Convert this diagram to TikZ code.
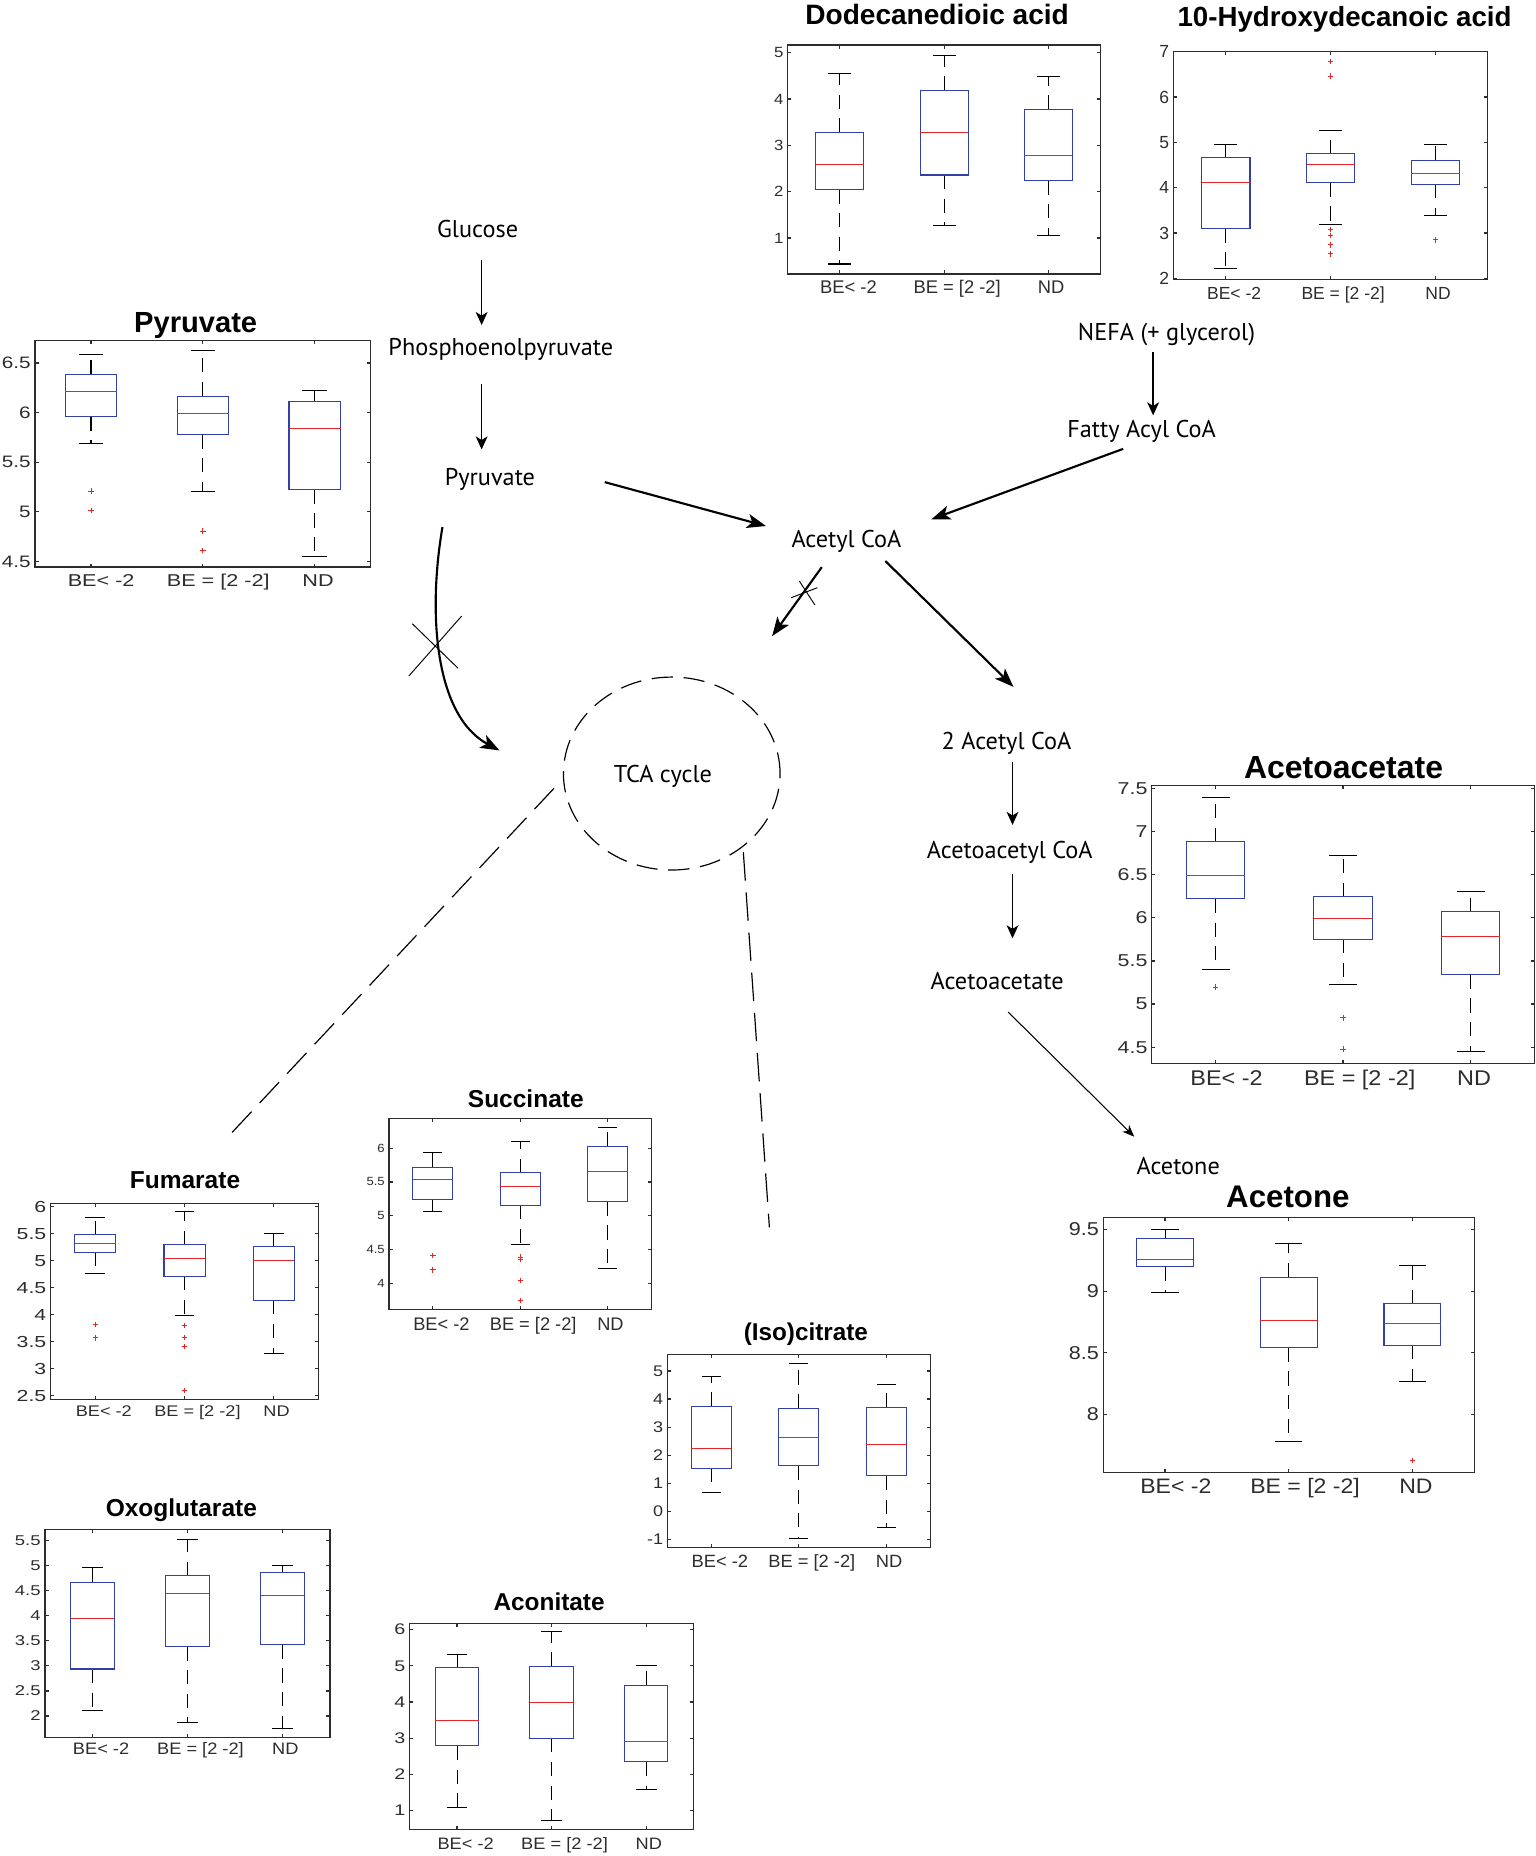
\documentclass[tikz,border=0pt]{standalone}
\usepackage{fontspec}
\setmainfont{Liberation Sans}
\newfontfamily\pwfont{PT Sans}
\usepackage{graphicx}
\usetikzlibrary{arrows.meta,shapes.geometric}
\definecolor{bxb}{RGB}{48,64,168}
\definecolor{mdr}{RGB}{228,38,38}
\definecolor{axc}{RGB}{45,45,45}
\tikzset{
  axl/.style={draw=axc, line width=1pt},
  boxl/.style={draw=bxb, line width=0.9pt},
  medl/.style={draw=mdr, line width=0.9pt},
  whl/.style={draw=black, line width=0.9pt, dash pattern=on 12pt off 8pt},
  capl/.style={draw=black, line width=0.9pt},
  outl/.style={draw=mdr, line width=0.8pt},
  pls/.pic={\draw[outl] (-2.3pt,0pt) -- (2.3pt,0pt) (0pt,-2.3pt) -- (0pt,2.3pt);},
  ttl/.style={font=\bfseries\fontsize{#1}{#1}\selectfont, anchor=base, inner sep=0pt},
  pw/.style={font=\pwfont\fontsize{20.5}{24}\selectfont, anchor=base, inner sep=0pt},
  ar/.style={-{Stealth[length=11pt,width=10pt,inset=3pt]}, line width=1.1pt},
  arb/.style={-{Stealth[length=16pt,width=12pt,inset=4pt]}, line width=1.8pt},
  art/.style={-{Stealth[length=10pt,width=8pt,inset=3pt]}, line width=0.9pt},
  xl/.style={line width=0.8pt},
  dl/.style={line width=1pt, dash pattern=on 24pt off 10pt},
}
\newcommand\frm{%
  \draw[axl] (0.5,\vb) rectangle (3.5,\vt);
  \foreach \g in {1,2,3}{\draw[axl] (\g,\vb) -- ++(0pt,3pt) (\g,\vt) -- ++(0pt,-3pt);}
  \foreach \v in \ticks {%
    \draw[axl] (0.5,\v) -- ++(3pt,0pt) (3.5,\v) -- ++(-3pt,0pt);
    \node[anchor=east, inner sep=0pt, xshift=-3.5pt, font=\fontsize{\tfs}{\tfs}\selectfont, text=axc] at (0.5,\v) {\scalebox{\tsx}[1]{\v}};}
  \foreach \g/\lab/\sh in {1/{BE< -2}/0.47, 2/{BE = [2 -2]}/0.71, 3/{ND}/0.15}{%
    \pgfmathsetmacro\dx{\sh*\lfs*\lsx}%
    \node[anchor=base, inner sep=0pt, xshift=\dx pt, yshift=-\lbo pt, font=\fontsize{\lfs}{\lfs}\selectfont, text=axc] at (\g,\vb) {\scalebox{\lsx}[1]{\lab}};}
}
\newcommand\bx[6]{%
  \draw[whl] (#1,#3) -- (#1,#2);
  \draw[whl] (#1,#5) -- (#1,#6);
  \draw[capl] (#1-0.11,#2) -- (#1+0.11,#2) (#1-0.11,#6) -- (#1+0.11,#6);
  \draw[boxl] (#1-0.23,#3) rectangle (#1+0.23,#5);
  \draw[medl] (#1-0.23,#4) -- (#1+0.23,#4);}
\newcommand\ol[2]{\pic at (#1,#2) {pls};}
\begin{document}
\begin{tikzpicture}[x=1pt, y=-1pt]
\useasboundingbox (0,0) rectangle (1297,1568);
\fill[white] (0,0) rectangle (1297,1568);

% ---------- Dodecanedioic acid
\def\vb{0.224}\def\vt{5.166}\def\ticks{1,2,3,4,5}
\def\tfs{12.5}\def\tsx{1.13}\def\lfs{15.5}\def\lsx{1}\def\lbo{16.3}
\begin{scope}[shift={(621.47,240.25)}, x={(88.07pt,0pt)}, y={(0pt,39.15pt)}]
\frm
\bx{1}{0.44}{2.05}{2.58}{3.28}{4.55}
\bx{2}{1.27}{2.36}{3.28}{4.19}{4.94}
\bx{3}{1.06}{2.24}{2.78}{3.78}{4.49}
\end{scope}
\node[ttl=23.7] (t-dod) at (791.7,20.3) {Dodecanedioic acid};

% ---------- 10-Hydroxydecanoic acid
\def\vb{1.979}\def\vt{7.0}\def\ticks{2,3,4,5,6,7}
\def\tfs{14.8}\def\tsx{1}\def\lfs{14.8}\def\lsx{1}\def\lbo{16.6}
\begin{scope}[shift={(947.13,311.8)}, x={(88.53pt,0pt)}, y={(0pt,38.3pt)}]
\frm
\bx{1}{2.21}{3.10}{4.11}{4.67}{4.96}
\bx{2}{3.18}{4.11}{4.51}{4.75}{5.26}
\bx{3}{3.38}{4.08}{4.31}{4.61}{4.95}
\ol{2}{6.79}\ol{2}{6.46}\ol{2}{3.08}\ol{2}{2.95}\ol{2}{2.74}\ol{2}{2.54}
\ol{3}{2.85}
\end{scope}
\node[ttl=23.4] (t-hyd) at (1135.9,22.5) {10-Hydroxydecanoic acid};

% ---------- Pyruvate
\def\vb{4.443}\def\vt{6.728}\def\ticks{4.5,5,5.5,6,6.5}
\def\tfs{14}\def\tsx{1.25}\def\lfs{14.5}\def\lsx{1.26}\def\lbo{16}
\begin{scope}[shift={(-17.67,851.4)}, x={(94.53pt,0pt)}, y={(0pt,83.8pt)}]
\frm
\bx{1}{5.693}{5.962}{6.214}{6.386}{6.59}
\bx{2}{5.206}{5.781}{5.989}{6.167}{6.624}
\bx{3}{4.554}{5.223}{5.841}{6.113}{6.224}
\ol{1}{5.209}\ol{1}{5.011}\ol{2}{4.806}\ol{2}{4.608}
\end{scope}
\node[ttl=24.6] (t-pyr) at (165.3,281.1) {Pyruvate};

% ---------- Acetoacetate
\def\vb{4.312}\def\vt{7.538}\def\ticks{4.5,5,5.5,6,6.5,7,7.5}
\def\tfs{14.5}\def\tsx{1.25}\def\lfs{18}\def\lsx{1.1}\def\lbo{18.4}
\begin{scope}[shift={(919.25,1212.6)}, x={(107.7pt,0pt)}, y={(0pt,72.87pt)}]
\frm
\bx{1}{5.405}{6.22}{6.495}{6.88}{7.40}
\bx{2}{5.223}{5.753}{5.996}{6.244}{6.72}
\bx{3}{4.454}{5.339}{5.788}{6.07}{6.31}
\ol{1}{5.196}\ol{2}{4.84}\ol{2}{4.477}
\end{scope}
\node[ttl=27] (t-acac) at (1135.1,657.7) {Acetoacetate};

% ---------- Acetone
\def\vb{7.532}\def\vt{9.594}\def\ticks{8,8.5,9,9.5}
\def\tfs{15.7}\def\tsx{1.16}\def\lfs{17.7}\def\lsx{1.1}\def\lbo{18.3}
\begin{scope}[shift={(879.75,2028.6)}, x={(104.5pt,0pt)}, y={(0pt,104.2pt)}]
\frm
\bx{1}{8.992}{9.2}{9.259}{9.43}{9.5}
\bx{2}{7.78}{8.541}{8.765}{9.114}{9.389}
\bx{3}{8.265}{8.562}{8.738}{8.897}{9.208}
\ol{3}{7.627}
\end{scope}
\node[ttl=26.4] (t-acet) at (1088.0,1020.4) {Acetone};

% ---------- Succinate
\def\vb{3.609}\def\vt{6.435}\def\ticks{4,4.5,5,5.5,6}
\def\tfs{10}\def\tsx{1.1}\def\lfs{15.4}\def\lsx{1}\def\lbo{17.7}
\begin{scope}[shift={(291.77,1312.0)}, x={(73.87pt,0pt)}, y={(0pt,57pt)}]
\frm
\bx{1}{5.062}{5.235}{5.536}{5.714}{5.941}
\bx{2}{4.578}{5.156}{5.437}{5.635}{6.099}
\bx{3}{4.212}{5.205}{5.659}{6.025}{6.301}
\ol{1}{4.41}\ol{1}{4.195}
\ol{2}{4.385}\ol{2}{4.35}\ol{2}{4.04}\ol{2}{3.74}
\end{scope}
\node[ttl=20.7] (t-suc) at (444.2,935.4) {Succinate};

% ---------- Fumarate
\def\vb{2.426}\def\vt{6.061}\def\ticks{2.5,3,3.5,4,4.5,5,5.5,6}
\def\tfs{13.5}\def\tsx{1.33}\def\lfs{13}\def\lsx{1.18}\def\lbo{14.6}
\begin{scope}[shift={(5.1,1292.9)}, x={(75.4pt,0pt)}, y={(0pt,45.55pt)}]
\frm
\bx{1}{4.763}{5.159}{5.32}{5.48}{5.802}
\bx{2}{3.984}{4.714}{5.041}{5.295}{5.907}
\bx{3}{3.273}{4.268}{4.998}{5.27}{5.511}
\ol{1}{3.823}\ol{1}{3.57}
\ol{2}{3.805}\ol{2}{3.582}\ol{2}{3.409}\ol{2}{2.599}
\end{scope}
\node[ttl=20.7] (t-fum) at (156.3,1004.4) {Fumarate};

% ---------- (Iso)citrate
\def\vb{-1.287}\def\vt{5.573}\def\ticks{-1,0,1,2,3,4,5}
\def\tfs{13}\def\tsx{1.17}\def\lfs{15}\def\lsx{1.03}\def\lbo{16.9}
\begin{scope}[shift={(526.92,1276.85)}, x={(73.97pt,0pt)}, y={(0pt,23.73pt)}]
\frm
\bx{1}{0.66}{1.537}{2.237}{3.731}{4.787}
\bx{2}{-0.976}{1.62}{2.628}{3.672}{5.261}
\bx{3}{-0.573}{1.264}{2.367}{3.696}{4.526}
\end{scope}
\node[ttl=20.5] (t-iso) at (680.8,1132.8) {(Iso)citrate};

% ---------- Oxoglutarate
\def\vb{1.575}\def\vt{5.72}\def\ticks{2,2.5,3,3.5,4,4.5,5,5.5}
\def\tfs{12}\def\tsx{1.3}\def\lfs{14}\def\lsx{1.1}\def\lbo{14.6}
\begin{scope}[shift={(-2.13,1534.4)}, x={(80.27pt,0pt)}, y={(0pt,42.34pt)}]
\frm
\bx{1}{2.113}{2.938}{3.943}{4.668}{4.968}
\bx{2}{1.874}{3.391}{4.449}{4.795}{5.513}
\bx{3}{1.76}{3.424}{4.409}{4.855}{4.995}
\end{scope}
\node[ttl=20.7] (t-oxo) at (153.2,1281.0) {Oxoglutarate};

% ---------- Aconitate
\def\vb{0.474}\def\vt{6.167}\def\ticks{1,2,3,4,5,6}
\def\tfs{13}\def\tsx{1.28}\def\lfs{14}\def\lsx{1.1}\def\lbo{16.9}
\begin{scope}[shift={(306.27,1560.2)}, x={(79.87pt,0pt)}, y={(0pt,30.58pt)}]
\frm
\bx{1}{1.083}{2.786}{3.477}{4.959}{5.309}
\bx{2}{0.733}{2.998}{3.993}{4.978}{5.936}
\bx{3}{1.58}{2.344}{2.915}{4.453}{4.996}
\end{scope}
\node[ttl=20.6] (t-aco) at (463.9,1360.4) {Aconitate};

% ---------- pathway
\node[pw] (glc) at (403.5,200.3) {Glucose};
\node[pw] (pep) at (423.1,300.0) {Phosphoenolpyruvate};
\node[pw] (pyr) at (413.9,410.1) {Pyruvate};
\node[pw] (acoa) at (715.1,462.7) {Acetyl CoA};
\node[pw] (nefa) at (985.5,287.6) {NEFA (+ glycerol)};
\node[pw] (facoa) at (964.4,369.8) {Fatty Acyl CoA};
\node[pw] (acoa2) at (850.3,633.1) {2 Acetyl CoA};
\node[pw] (aacoa) at (853.1,725.2) {Acetoacetyl CoA};
\node[pw] (acac) at (842.4,836.2) {Acetoacetate};
\node[pw] (acet) at (995.4,991.9) {Acetone};
\node[draw, line width=1pt, dash pattern=on 18pt off 9pt, ellipse, minimum width=183pt, minimum height=163pt, inner sep=0pt] (tca) at (567.5,653.5) {};
\node[pw] (tcat) at (560,661) {TCA cycle};

\coordinate (a1s) at (406.9,220.0); \coordinate (a1e) at (406.9,274.6);
\coordinate (a2s) at (406.9,324.7); \coordinate (a2e) at (406.9,379.7);
\coordinate (a3s) at (510.9,407.3); \coordinate (a3e) at (647.1,444.4);
\coordinate (a4s) at (974.2,297.1); \coordinate (a4e) at (974.2,350.9);
\coordinate (a5s) at (948.9,379.2); \coordinate (a5e) at (786.9,438.7);
\coordinate (a6s) at (694.3,479.1); \coordinate (a6e) at (652.3,537.4);
\coordinate (a7s) at (748,474); \coordinate (a7e) at (856.2,580.3);
\coordinate (a8s) at (855.4,643.5); \coordinate (a8e) at (855.4,696.9);
\coordinate (a9s) at (855.4,738.4); \coordinate (a9e) at (855.4,792.7);
\coordinate (a10s) at (851.7,855.0); \coordinate (a10e) at (958.2,960.3);
\coordinate (cvs) at (373.8,445.3); \coordinate (cve) at (422,634);
\coordinate (tcaL) at (468,666); \coordinate (fumT) at (193,960);
\coordinate (tcaR) at (628,720); \coordinate (isoT) at (650,1037);

\draw[ar] (a1s) -- (a1e);
\draw[ar] (a2s) -- (a2e);
\draw[arb] (a3s) -- (a3e);
\draw[ar] (a4s) -- (a4e);
\draw[arb] (a5s) -- (a5e);
\draw[arb] (a6s) -- (a6e);
\draw[arb] (a7s) -- (a7e);
\draw[ar] (a8s) -- (a8e);
\draw[ar] (a9s) -- (a9e);
\draw[art] (a10s) -- (a10e);
\draw[arb] (cvs) .. controls (361,520) and (368,605) .. (cve);
% cross marks
\draw[xl] (668.3,505.0) -- (690.6,496.5) (675.3,490.9) -- (688.5,511.2);
\draw[xl] (348.4,527.0) -- (387.0,564.6) (390.0,520.5) -- (345.4,571.1);
% dashed links
\draw[dl] (tcaL) -- (fumT);
\draw[dl] (tcaR) -- (isoT);
\end{tikzpicture}
\end{document}
